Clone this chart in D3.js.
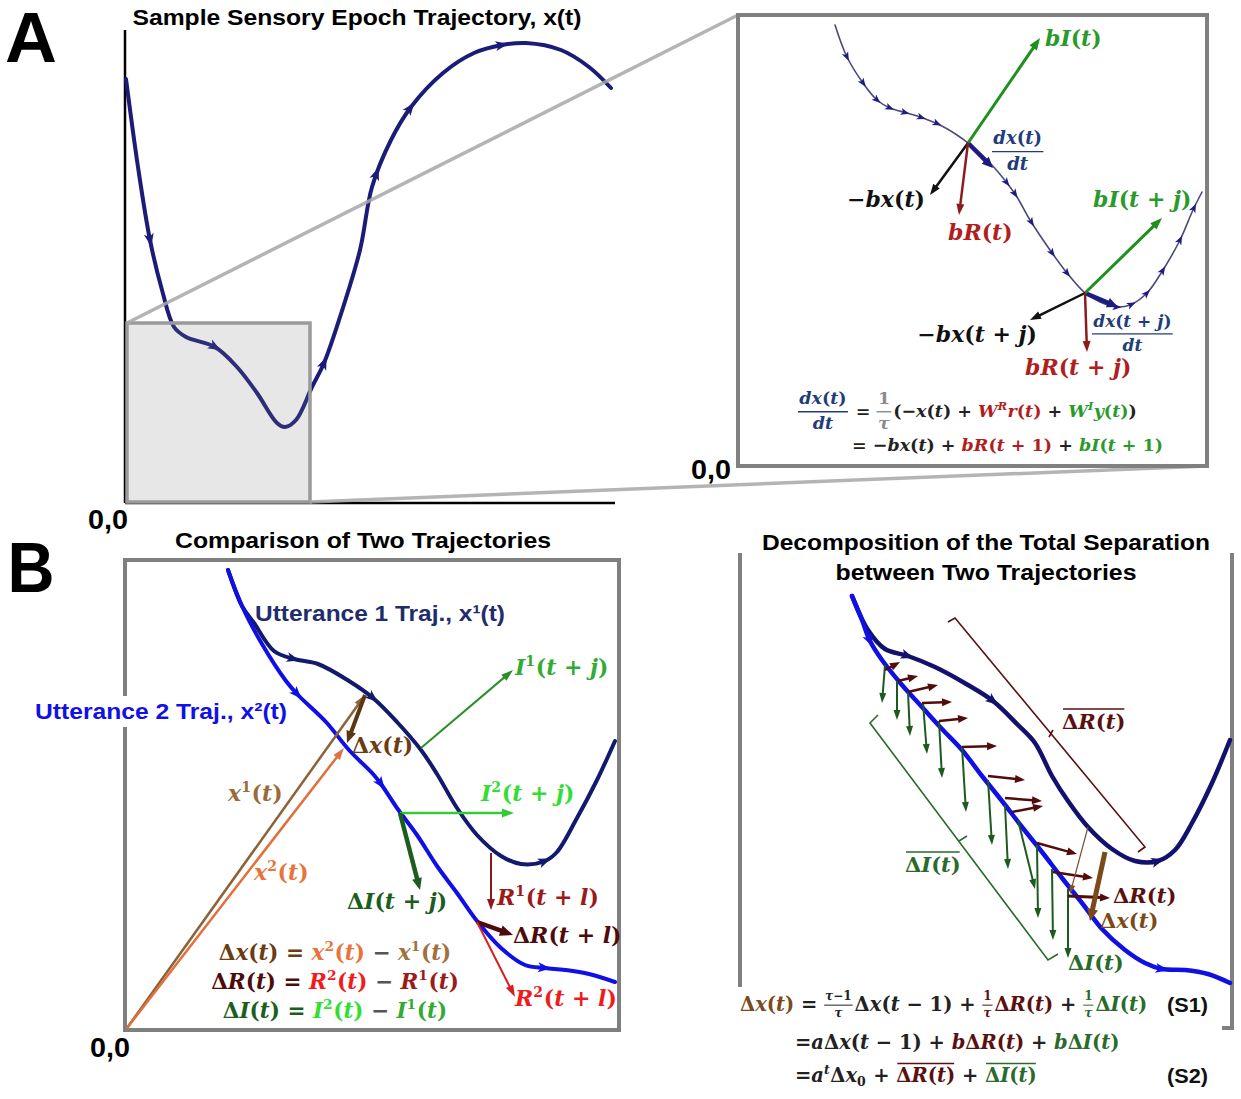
<!DOCTYPE html>
<html><head><meta charset="utf-8">
<script src="https://cdn.jsdelivr.net/npm/d3@7"></script>
<style>body{margin:0;background:#fff}svg{display:block}text{white-space:pre}</style>
</head><body>
<script>
// ---------------- DATA (panel units) ----------------
// Panel A main: trajectory x(t)
const trajA = [[1,424],[13,336],[25,263],[37,213],[49,176],[61,166],[90,156],[112,136],[132,110],[152,80],[160,76],[171,83],[187,116],[199,140],[215,186],[235,253],[247,316],[266,363],[286,396],[318,430],[349,450],[377,458],[401,460],[436,453],[464,436],[486,415]];
const trajAArrows = [[25,263],[90,156],[199,140],[250,330],[285,395],[377,458]];
const zoomBox = [2,185,1,180];
// Panel A inset
const trajInset = [[97,441],[109,409],[125,383],[139,366],[152,358],[169,353],[185,348],[202,341],[219,331],[230,323],[252,303],[269,283],[279,269],[292,246],[312,216],[329,193],[347,173],[362,164],[379,159],[392,161],[409,173],[425,196],[442,226],[455,256],[464,274]];
const trajInsetArrows = [[109,409],[125,383],[139,366],[152,358],[167,353],[184,349],[200,343],[269,284],[279,273],[294,244],[314,213],[329,193],[379,159],[394,161],[409,173],[425,196],[442,226],[457,258]];
const insetTangents = [[[230,323],[255,298]],[[347,173],[380,159]]];
const insetVectors = [
  {kind:"I", from:[230,323], to:[302,428]},
  {kind:"x", from:[230,323], to:[192,271]},
  {kind:"R", from:[230,323], to:[221,251]},
  {kind:"I", from:[347,173], to:[424,248]},
  {kind:"x", from:[347,173], to:[292,146]},
  {kind:"R", from:[347,173], to:[349,114]}];
// Panel B left
const traj1 = [[103,460],[117,424],[129,407],[149,379],[169,371],[193,366],[224,349],[248,332],[272,308],[296,280],[312,256],[332,222],[352,195],[376,174],[396,166],[420,169],[432,178],[452,212],[472,250],[490,289]];
const traj2 = [[103,460],[117,424],[137,386],[161,349],[173,335],[201,308],[224,280],[248,256],[256,246],[272,222],[292,195],[312,164],[332,137],[352,109],[376,82],[400,65],[420,62],[440,60],[464,56],[490,48]];
const traj1Arrows = [[168,372],[248,332],[420,169]];
const traj2Arrows = [[172,335],[256,246],[420,62]];
const compVectors = [
  {kind:"x1", from:[2,2], to:[240,335]},
  {kind:"x2", from:[2,2], to:[219,282]},
  {kind:"dx", from:[240,335], to:[222,287]},
  {kind:"I1", from:[296,282], to:[388,360]},
  {kind:"I2", from:[275,217], to:[389,217]},
  {kind:"dI", from:[275,217], to:[295,140]},
  {kind:"R1", from:[366,177], to:[366,120]},
  {kind:"dR", from:[352,108], to:[388,95]},
  {kind:"R2", from:[352,108], to:[390,33]}];
// Panel B right
const trajD1 = [[112,434],[128,400],[145,381],[168,374],[195,363],[228,345],[253,329],[278,305],[295,287],[312,254],[328,229],[348,203],[372,181],[395,169],[418,169],[435,180],[452,207],[472,247],[490,290]];
const trajD2 = [[112,434],[122,410],[130,389],[142,370],[162,345],[182,323],[202,301],[222,280],[242,254],[262,229],[282,203],[302,178],[322,152],[342,127],[362,101],[385,80],[405,67],[422,61],[445,60],[468,56],[490,47]];
const trajD1Arrows = [[168,374],[253,329],[418,169]];
const trajD2Arrows = [[130,389],[422,61]];
const inputDiffs = [[[145,365],[142,327]],[[157,349],[157,310]],[[168,338],[170,294]],[[183,327],[187,276]],[[199,309],[202,252]],[[222,283],[226,218]],[[248,250],[252,185]],[[265,225],[268,161]],[[278,210],[295,141]],[[297,185],[298,112]],[[312,161],[313,90]],[[328,141],[328,72]]];
const recurDiffs = [[[145,360],[160,368]],[[158,349],[178,354]],[[168,338],[198,345]],[[182,327],[212,328]],[[199,309],[228,312]],[[222,283],[257,284]],[[248,254],[285,250]],[[265,232],[302,229]],[[272,218],[303,224]],[[297,187],[337,176]],[[313,158],[353,152]],[[328,134],[370,132]]];
const sepThin = [[348,203],[330,136]];
const sepThick = [[365,178],[350,109]];
const bracketR = [[208,408],[215,412],[405,183],[398,178]];
const bracketRTick = [[313,300],[309,293]];
const bracketI = [[138,315],[130,307],[308,70],[318,76]];
const bracketITick = [[219,189],[227,194]];

// ---------------- SETUP ----------------
const svg = d3.select("body").append("svg").attr("width",1241).attr("height",1099);
const MATH = "'DejaVu Serif','Liberation Serif',serif";
const SANS = "'Liberation Sans',Arial,sans-serif";
const sA = {x:d3.scaleLinear([0,490],[125,615]), y:d3.scaleLinear([0,473],[503,30])};
const sI = {x:d3.scaleLinear([0,469],[738,1207]), y:d3.scaleLinear([0,451],[466,15])};
const sB = {x:d3.scaleLinear([0,494],[125,619]), y:d3.scaleLinear([0,470],[1030,560])};
const sD = {x:d3.scaleLinear([0,492],[740,1232]), y:d3.scaleLinear([0,475],[1030,555])};
const P = (s,p)=>[s.x(p[0]), s.y(p[1])];

function runs(sel, str){
  const re=/([A-Za-zτ]+)|([^A-Za-zτ]+)/g; let m;
  while((m=re.exec(str))!==null) sel.append("tspan").attr("font-style", m[1]?"italic":"normal").text(m[0]);
}
function mtext(parent, x, y, items, size, anchor="start", defC="#222"){
  const g=parent.append("g").attr("font-family",MATH).attr("font-weight","bold");
  let cx=0;
  for(let it of items){
    if(typeof it==="string") it={t:it};
    const c=it.c||defC;
    if(it.frac){
      const fs=size*(it.s||0.62), ly=-size*0.3;
      const n=g.append("text").attr("font-size",fs).attr("fill",c); runs(n,it.frac[0]);
      const d=g.append("text").attr("font-size",fs).attr("fill",c); runs(d,it.frac[1]);
      const wn=n.node().getComputedTextLength(), wd=d.node().getComputedTextLength();
      const w=Math.max(wn,wd)+fs*0.15;
      n.attr("x",cx+(w-wn)/2).attr("y",ly-fs*0.42);
      d.attr("x",cx+(w-wd)/2).attr("y",ly+fs*1.0);
      g.append("line").attr("x1",cx).attr("x2",cx+w).attr("y1",ly).attr("y2",ly).attr("stroke",c).attr("stroke-width",Math.max(1,fs*0.08));
      cx+=w+size*0.1;
    } else if(it.sup!=null||it.sub!=null){
      const fs=size*0.64;
      const t=g.append("text").attr("font-size",fs).attr("fill",c).attr("x",cx).attr("y",it.sup!=null?-size*0.42:size*0.2);
      runs(t,it.sup!=null?it.sup:it.sub);
      cx+=t.node().getComputedTextLength()+size*0.03;
    } else {
      const t=g.append("text").attr("font-size",size).attr("fill",c).attr("x",cx).attr("y",0);
      runs(t,it.t);
      const w=t.node().getComputedTextLength();
      if(it.over) g.append("line").attr("x1",cx+1).attr("x2",cx+w-1).attr("y1",-size*0.95).attr("y2",-size*0.95).attr("stroke",c).attr("stroke-width",1.4);
      cx+=w;
    }
  }
  const off=anchor==="middle"?-cx/2:anchor==="end"?-cx:0;
  g.attr("transform",`translate(${x+off},${y})`);
  return g;
}
function stext(parent,x,y,str,size,color,anchor,len){
  const t=parent.append("text").attr("x",x).attr("y",y).attr("font-family",SANS).attr("font-weight","bold")
    .attr("font-size",size).attr("fill",color).attr("text-anchor",anchor||"start").text(str);
  if(len) t.attr("textLength",len).attr("lengthAdjust","spacingAndGlyphs");
  return t;
}
function arrow(g,p1,p2,color,w,hl,hw){
  const dx=p2[0]-p1[0], dy=p2[1]-p1[1], L=Math.hypot(dx,dy), ux=dx/L, uy=dy/L;
  const bx=p2[0]-ux*hl, by=p2[1]-uy*hl;
  g.append("line").attr("x1",p1[0]).attr("y1",p1[1]).attr("x2",bx+ux).attr("y2",by+uy).attr("stroke",color).attr("stroke-width",w);
  g.append("path").attr("d",`M${p2[0]},${p2[1]}L${bx-uy*hw/2},${by+ux*hw/2}L${bx+uy*hw/2},${by-ux*hw/2}Z`).attr("fill",color);
}
const line = d3.line().curve(d3.curveCatmullRom.alpha(0.5));
const pline = d3.line();
function curve(g,s,pts,color,w,arrows,hl,hw,hc){
  const path=g.append("path").attr("d",line(pts.map(p=>P(s,p)))).attr("fill","none").attr("stroke",color)
    .attr("stroke-width",w).attr("stroke-linecap","round").attr("stroke-linejoin","round");
  const node=path.node(), L=node.getTotalLength();
  const samp=[]; for(let l=0;l<=L;l+=1){const q=node.getPointAtLength(l); samp.push([l,q.x,q.y]);}
  (arrows||[]).forEach(a=>{
    const [ax,ay]=P(s,a); let best=samp[0], bd=1e9;
    samp.forEach(q=>{const d=(q[1]-ax)**2+(q[2]-ay)**2; if(d<bd){bd=d;best=q;}});
    const l=best[0], q1=node.getPointAtLength(Math.max(0,l-3)), q2=node.getPointAtLength(Math.min(L,l+3));
    const ang=Math.atan2(q2.y-q1.y,q2.x-q1.x)*180/Math.PI;
    g.append("path").attr("d",`M${hl/2},0L${-hl/2},${-hw/2}L${-hl/4},0L${-hl/2},${hw/2}Z`).attr("fill",hc||color)
      .attr("transform",`translate(${best[1]},${best[2]}) rotate(${ang})`);
  });
  return path;
}

// ---------------- PANEL A ----------------
const gA=svg.append("g");
stext(gA,5,62,"A",70,"#000","start",52);
stext(gA,357,25,"Sample Sensory Epoch Trajectory, x(t)",22,"#000","middle",449);
gA.append("line").attr("x1",sA.x(0)).attr("x2",sA.x(0)).attr("y1",sA.y(473)).attr("y2",sA.y(0)).attr("stroke","#000").attr("stroke-width",2.5);
gA.append("line").attr("x1",sA.x(0)).attr("x2",sA.x(490)).attr("y1",sA.y(0)).attr("y2",sA.y(0)).attr("stroke","#000").attr("stroke-width",2.5);
curve(gA,sA,trajA,"#1b1c78",4,trajAArrows,13,10);
gA.append("rect").attr("x",sA.x(zoomBox[0])).attr("y",sA.y(zoomBox[3])).attr("width",sA.x(zoomBox[1])-sA.x(zoomBox[0]))
  .attr("height",sA.y(zoomBox[2])-sA.y(zoomBox[3])).attr("fill","rgba(125,125,135,0.19)").attr("stroke","#9a9a9a").attr("stroke-width",3.5);
gA.append("line").attr("x1",sA.x(zoomBox[0])).attr("y1",sA.y(zoomBox[3])).attr("x2",sI.x(0)).attr("y2",sI.y(451)).attr("stroke","#a8a8a8").attr("stroke-width",3.5).attr("opacity",0.85);
gA.append("line").attr("x1",sA.x(zoomBox[1])).attr("y1",sA.y(zoomBox[2])).attr("x2",sI.x(469)).attr("y2",sI.y(0)).attr("stroke","#a8a8a8").attr("stroke-width",3.5).attr("opacity",0.85);
stext(gA,108,529,"0,0",27,"#000","middle",40);

// inset
const gI=svg.append("g");
gI.append("rect").attr("x",sI.x(0)).attr("y",sI.y(451)).attr("width",sI.x(469)-sI.x(0)).attr("height",sI.y(0)-sI.y(451))
  .attr("fill","#fff").attr("stroke","#808080").attr("stroke-width",4);
curve(gI,sI,trajInset,"#4a4a7a",1.6,trajInsetArrows,9,7,"#1c1c82");
insetTangents.forEach(t=>arrow(gI,P(sI,t[0]),P(sI,t[1]),"#1c1c82",4.5,11,10));
const vStyle={I:["#1f8f1f",3,12,9],x:["#111",2.5,11,8],R:["#8b1c1c",2.5,11,8]};
insetVectors.forEach(v=>{const st=vStyle[v.kind]; arrow(gI,P(sI,v.from),P(sI,v.to),st[0],st[1],st[2],st[3]);});
const cG="#2a9a2a", cR="#b01e1e", cN="#1f3d7a";
mtext(gI,sI.x(307),sI.y(420),[{t:"bI(t)",c:cG}],22);
mtext(gI,sI.x(187),sI.y(259),[{t:"−bx(t)",c:"#111"}],22,"end");
mtext(gI,sI.x(210),sI.y(226),[{t:"bR(t)",c:cR}],22);
mtext(gI,sI.x(254),sI.y(309),[{frac:["dx(t)","dt"],s:1,c:cN}],18);
mtext(gI,sI.x(355),sI.y(259),[{t:"bI(t + j)",c:cG}],22);
mtext(gI,sI.x(299),sI.y(124),[{t:"−bx(t + j)",c:"#111"}],22,"end");
mtext(gI,sI.x(287),sI.y(91),[{t:"bR(t + j)",c:cR}],22);
mtext(gI,sI.x(354),sI.y(127),[{frac:["dx(t + j)","dt"],s:1,c:cN}],17);
mtext(gI,sI.x(60),sI.y(49),[{frac:["dx(t)","dt"],s:1,c:cN}," = ",{frac:["1","τ"],s:1,c:"#8a8a8a"},"(−x(t) + ",{t:"W",c:cR},{sup:"R",c:cR},{t:"r(t)",c:cR}," + ",{t:"W",c:cG},{sup:"I",c:cG},{t:"y(t)",c:cG},")"],17.5);
mtext(gI,sI.x(114),sI.y(15),["= −bx(t) + ",{t:"bR(t + 1)",c:cR}," + ",{t:"bI(t + 1)",c:cG}],17.5);
stext(gI,711,479,"0,0",27,"#000","middle",40);

// ---------------- PANEL B left ----------------
const gB=svg.append("g");
stext(gB,31,592,"B",70,"#000","middle",47);
stext(gB,363,548,"Comparison of Two Trajectories",22,"#000","middle",376);
gB.append("rect").attr("x",sB.x(0)).attr("y",sB.y(470)).attr("width",sB.x(494)-sB.x(0)).attr("height",sB.y(0)-sB.y(470))
  .attr("fill","none").attr("stroke","#7f7f7f").attr("stroke-width",4);
curve(gB,sB,traj1,"#121a6e",4,traj1Arrows,13,10);
curve(gB,sB,traj2,"#0f0fe6",4,traj2Arrows,13,10);
const cStyle={x1:["#8c6239",2.5,12,8],x2:["#e0703c",2.5,12,8],dx:["#5c3511",4,12,10],I1:["#2a8f2a",2,12,8],I2:["#33cc33",2.5,12,9],
  dI:["#1b5e20",4.5,12,10],R1:["#8b1a1a",2,11,8],dR:["#4d0b0b",4.5,13,11],R2:["#d42020",2,12,8]};
compVectors.forEach(v=>{const st=cStyle[v.kind]; arrow(gB,P(sB,v.from),P(sB,v.to),st[0],st[1],st[2],st[3]);});
mtext(gB,sB.x(103),sB.y(229),[{t:"x",c:"#9a6a3a"},{sup:"1",c:"#9a6a3a"},{t:"(t)",c:"#9a6a3a"}],22);
mtext(gB,sB.x(129),sB.y(150),[{t:"x",c:"#e8743c"},{sup:"2",c:"#e8743c"},{t:"(t)",c:"#e8743c"}],22);
mtext(gB,sB.x(227),sB.y(277),[{t:"Δx(t)",c:"#6b3c12"}],22);
mtext(gB,sB.x(390),sB.y(355),[{t:"I",c:"#33aa33"},{sup:"1",c:"#33aa33"},{t:"(t + j)",c:"#33aa33"}],22);
mtext(gB,sB.x(356),sB.y(229),[{t:"I",c:"#33dd33"},{sup:"2",c:"#33dd33"},{t:"(t + j)",c:"#33dd33"}],22);
mtext(gB,sB.x(222),sB.y(121),[{t:"ΔI(t + j)",c:"#1b5e20"}],22);
mtext(gB,sB.x(372),sB.y(125),[{t:"R",c:"#9b1b1b"},{sup:"1",c:"#9b1b1b"},{t:"(t + l)",c:"#9b1b1b"}],22);
mtext(gB,sB.x(388),sB.y(87),[{t:"ΔR(t + l)",c:"#4d0b0b"}],22);
mtext(gB,sB.x(390),sB.y(24),[{t:"R",c:"#ee1c1c"},{sup:"2",c:"#ee1c1c"},{t:"(t + l)",c:"#ee1c1c"}],22);
mtext(gB,sB.x(210),sB.y(70),[{t:"Δx(t)",c:"#6b3c12"},{t:" = ",c:"#6b3c12"},{t:"x",c:"#e8743c"},{sup:"2",c:"#e8743c"},{t:"(t)",c:"#e8743c"},{t:" − ",c:"#555"},{t:"x",c:"#a0703f"},{sup:"1",c:"#a0703f"},{t:"(t)",c:"#a0703f"}],21.5,"middle");
mtext(gB,sB.x(210),sB.y(41),[{t:"ΔR(t)",c:"#4d0b0b"},{t:" = ",c:"#4d0b0b"},{t:"R",c:"#ee1c1c"},{sup:"2",c:"#ee1c1c"},{t:"(t)",c:"#ee1c1c"},{t:" − ",c:"#555"},{t:"R",c:"#9b1b1b"},{sup:"1",c:"#9b1b1b"},{t:"(t)",c:"#9b1b1b"}],21.5,"middle");
mtext(gB,sB.x(210),sB.y(12),[{t:"ΔI(t)",c:"#1b5e20"},{t:" = ",c:"#1b5e20"},{t:"I",c:"#33dd33"},{sup:"2",c:"#33dd33"},{t:"(t)",c:"#33dd33"},{t:" − ",c:"#555"},{t:"I",c:"#33aa33"},{sup:"1",c:"#33aa33"},{t:"(t)",c:"#33aa33"}],21.5,"middle");
stext(gB,sB.x(130),sB.y(409),"Utterance 1 Traj., x¹(t)",22,"#1f2d6b","start",250);
const u2=stext(gB,sB.x(-90),sB.y(311),"Utterance 2 Traj., x²(t)",22,"#1010e8","start",252);
const bb=u2.node().getBBox();
gB.insert("rect",()=>u2.node()).attr("x",bb.x-3).attr("y",bb.y-3).attr("width",bb.width+6).attr("height",bb.height+6).attr("fill","#fff");
stext(gB,110,1057,"0,0",27,"#000","middle",40);

// ---------------- PANEL B right ----------------
const gD=svg.append("g");
stext(gD,986,550,"Decomposition of the Total Separation",22,"#000","middle",448);
stext(gD,986,580,"between Two Trajectories",22,"#000","middle",301);
gD.append("path").attr("d",`M${sD.x(0)},${sD.y(477)}V${sD.y(43)}`).attr("stroke","#808080").attr("stroke-width",4).attr("fill","none");
gD.append("path").attr("d",`M${sD.x(492)},${sD.y(477)}V${sD.y(2)}H${sD.x(482)}`).attr("stroke","#808080").attr("stroke-width",4).attr("fill","none");
curve(gD,sD,trajD1,"#12126e",4.5,trajD1Arrows,13,10);
curve(gD,sD,trajD2,"#0f0fe6",4.5,trajD2Arrows,13,10);
gD.append("path").attr("d",pline(bracketR.map(p=>P(sD,p)))).attr("fill","none").attr("stroke","#5a1010").attr("stroke-width",1.6);
gD.append("path").attr("d",pline(bracketRTick.map(p=>P(sD,p)))).attr("fill","none").attr("stroke","#5a1010").attr("stroke-width",1.6);
gD.append("path").attr("d",pline(bracketI.map(p=>P(sD,p)))).attr("fill","none").attr("stroke","#2a6a2a").attr("stroke-width",1.6);
gD.append("path").attr("d",pline(bracketITick.map(p=>P(sD,p)))).attr("fill","none").attr("stroke","#2a6a2a").attr("stroke-width",1.6);
inputDiffs.forEach(a=>arrow(gD,P(sD,a[0]),P(sD,a[1]),"#1e5a1e",2,10,7));
recurDiffs.forEach((a,i)=>arrow(gD,P(sD,a[0]),P(sD,a[1]),"#520c0c",i===recurDiffs.length-1?3:2.5,10,8));
arrow(gD,P(sD,sepThin[0]),P(sD,sepThin[1]),"#7a5030",1.2,9,6);
arrow(gD,P(sD,sepThick[0]),P(sD,sepThick[1]),"#7a4a1a",5,12,11);
const dR="#5a1010", dG="#2a6a2a", dB="#7a4a1a";
mtext(gD,sD.x(322),sD.y(301),[{t:"ΔR(t)",c:dR,over:true}],21);
mtext(gD,sD.x(165),sD.y(158),[{t:"ΔI(t)",c:dG,over:true}],21);
mtext(gD,sD.x(373),sD.y(127),[{t:"ΔR(t)",c:dR}],21);
mtext(gD,sD.x(360),sD.y(102),[{t:"Δx(t)",c:dB}],21);
mtext(gD,sD.x(328),sD.y(60),[{t:"ΔI(t)",c:dG}],21);
mtext(gD,sD.x(0),sD.y(19),[{t:"Δx(t)",c:dB}," = ",{frac:["τ−1","τ"],s:0.62},"Δx(t − 1) + ",{frac:["1","τ"],s:0.62,c:dR},{t:"ΔR(t)",c:dR}," + ",{frac:["1","τ"],s:0.62,c:dG},{t:"ΔI(t)",c:dG}],19.5);
mtext(gD,sD.x(55),sD.y(-19),["=aΔx(t − 1) + ",{t:"bΔR(t)",c:dR}," + ",{t:"bΔI(t)",c:dG}],19.5);
mtext(gD,sD.x(55),sD.y(-52),["=a",{sup:"t"},"Δx",{sub:"0"}," + ",{t:"ΔR(t)",c:dR,over:true}," + ",{t:"ΔI(t)",c:dG,over:true}],19.5);
stext(gD,1167,1012,"(S1)",21,"#111","start",41);
stext(gD,1167,1083,"(S2)",21,"#111","start",41);
</script></body></html>
